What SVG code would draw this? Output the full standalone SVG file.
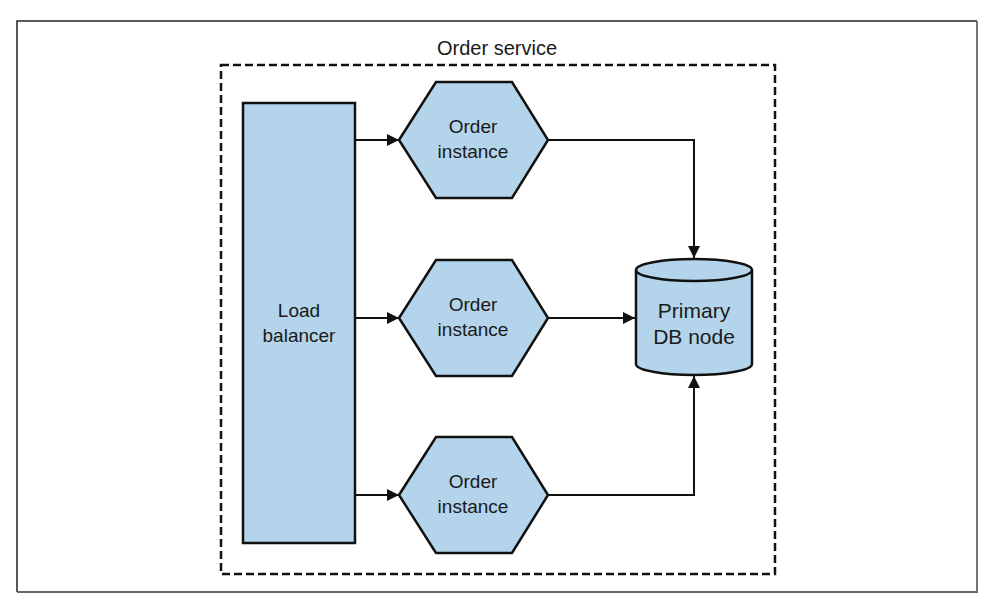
<svg xmlns="http://www.w3.org/2000/svg" width="989" height="600" viewBox="0 0 989 600">
<defs>
<style>
.shape{fill:#b3d4ea;stroke:#111;stroke-width:2.5;stroke-linejoin:miter}
.lbl{font-family:"Liberation Sans",Arial,sans-serif;font-size:19px;fill:#1a1a1a;text-anchor:middle}
.big{font-size:21px}
.conn{fill:none;stroke:#111;stroke-width:2}
</style>
<marker id="arr" viewBox="0 0 10 10" refX="10" refY="5" markerWidth="10" markerHeight="10" markerUnits="userSpaceOnUse" orient="auto">
<path d="M0,0 L10,5 L0,10 Z" fill="#111"/>
</marker>
<marker id="arrb" viewBox="0 0 10 10" refX="10" refY="5" markerWidth="12" markerHeight="12" markerUnits="userSpaceOnUse" orient="auto">
<path d="M0,0 L10,5 L0,10 Z" fill="#111"/>
</marker>
</defs>
<rect width="989" height="600" fill="#fff"/>
<g id="frame">
<path d="M17,592 L17,21 L977,21" fill="none" stroke="#222" stroke-width="1.5"/>
<path d="M977,21 L977,592 L17,592" fill="none" stroke="#666" stroke-width="1.8"/>
</g>
<g id="order-service">
<rect x="221" y="65" width="554" height="509" fill="none" stroke="#111" stroke-width="2.5" stroke-dasharray="8,4"/>
<text class="lbl" x="497" y="55" style="font-size:20px">Order service</text>
</g>
<g id="connectors">
<line class="conn" x1="355" y1="140" x2="399" y2="140" marker-end="url(#arrb)"/>
<line class="conn" x1="355" y1="318" x2="399" y2="318" marker-end="url(#arrb)"/>
<line class="conn" x1="355" y1="495" x2="399" y2="495" marker-end="url(#arrb)"/>
<polyline class="conn" points="548,140 694,140 694,258" marker-end="url(#arrb)"/>
<line class="conn" x1="548" y1="318" x2="635" y2="318" marker-end="url(#arrb)"/>
<polyline class="conn" points="548,495 694,495 694,376" marker-end="url(#arrb)"/>
</g>
<g id="load-balancer">
<rect class="shape" x="243" y="103" width="112" height="440"/>
<text class="lbl" x="299" y="317">Load</text>
<text class="lbl" x="299" y="342">balancer</text>
</g>
<g id="order-instance-1">
<polygon class="shape" points="399,140 436,82 512,82 548,140 512,198 436,198"/>
<text class="lbl" x="473" y="133">Order</text>
<text class="lbl" x="473" y="158">instance</text>
</g>
<g id="order-instance-2">
<polygon class="shape" points="399,318 436,260 512,260 548,318 512,376 436,376"/>
<text class="lbl" x="473" y="311">Order</text>
<text class="lbl" x="473" y="336">instance</text>
</g>
<g id="order-instance-3">
<polygon class="shape" points="399,495 436,437 512,437 548,495 512,553 436,553"/>
<text class="lbl" x="473" y="488">Order</text>
<text class="lbl" x="473" y="513">instance</text>
</g>
<g id="primary-db">
<path class="shape" d="M636,270 L636,364 A58,11 0 0 0 752,364 L752,270 A58,11 0 0 0 636,270 Z"/>
<path d="M636,270 A58,11 0 0 0 752,270" fill="none" stroke="#111" stroke-width="2.5"/>
<text class="lbl big" x="694" y="318">Primary</text>
<text class="lbl big" x="694" y="344">DB node</text>
</g>
</svg>
